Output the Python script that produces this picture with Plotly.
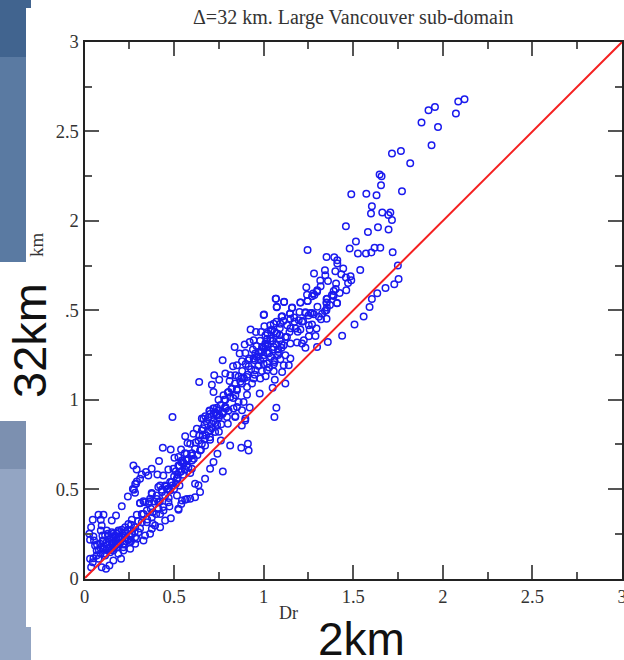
import plotly.graph_objects as go

TITLE = "Δ=32 km. Large Vancouver sub-domain"
x_tick_vals = [0, 0.5, 1, 1.5, 2, 2.5, 3]
x_tick_text = ["0", "0.5", "1", "1.5", "2", "2.5", "3"]
y_tick_vals = [0, 0.5, 1, 1.5, 2, 2.5, 3]
y_tick_text = ["0", "0.5", "1", ".5", "2", "2.5", "3"]
line_x = [0, 3]
line_y = [0, 3]

upper_x = [2.121,2.086,2.073,1.956,1.920,1.881,1.973,1.937,1.766,1.716,1.818,1.647,1.658,1.655,1.772,1.489,1.573,1.630,1.604,1.599,1.662,1.707,1.696,1.716,1.459,1.638,1.697,1.582,1.515,1.480,1.619,1.651,1.526,1.571,1.601,1.720,1.245,1.351,1.394,1.411,1.411,1.749,1.444,1.539,1.342,1.400,1.281,1.344,1.433,1.459,1.485,1.753,1.316,1.359,1.489,1.404,1.729,1.471,1.318,1.238,1.680,1.402,1.299,1.461,1.634,1.424,1.391,1.283,1.270,1.381,1.604,1.067,1.114,1.351,1.205,1.244,1.351,1.409,1.591,1.073,1.158,1.353,1.342,1.233,1.270,1.147,1.000,1.100,1.558,1.507,1.438]
upper_y = [2.680,2.667,2.600,2.637,2.619,2.550,2.524,2.423,2.391,2.376,2.322,2.259,2.250,2.199,2.166,2.149,2.151,2.143,2.082,2.041,2.046,2.046,2.033,2.005,1.970,1.964,1.951,1.938,1.884,1.845,1.849,1.849,1.817,1.817,1.823,1.824,1.837,1.798,1.796,1.780,1.761,1.750,1.733,1.725,1.724,1.718,1.705,1.696,1.701,1.683,1.690,1.675,1.666,1.664,1.668,1.649,1.645,1.653,1.634,1.628,1.625,1.619,1.612,1.612,1.595,1.597,1.608,1.585,1.578,1.585,1.563,1.565,1.546,1.563,1.544,1.552,1.543,1.539,1.518,1.517,1.513,1.515,1.496,1.489,1.485,1.481,1.474,1.464,1.465,1.420,1.358]

mid_x = [0.640,0.771,0.838,0.724,0.752,0.711,0.720,0.786,0.814,0.810,0.842,0.829,0.851,0.879,0.866,0.898,0.894,0.922,0.944,0.927,0.957,0.985,1.004,1.037,1.056,1.093,1.071,1.103,1.002,1.069,1.073,1.114,1.159,1.147,1.205,1.246,1.242,1.276,1.298,1.354,1.351,1.388,1.410,1.233,1.261,1.280,1.308,1.326,1.351,1.149,1.172,1.196,1.214,1.252,1.295,1.257,1.205,1.179,1.131,1.289,1.252,1.224,1.186,1.214,1.233,1.298,1.358,1.144,1.121,1.149,1.112,1.090,1.075,1.047,1.022,1.037,1.009,0.991,1.022,1.056,1.084,1.121,1.149,1.093,1.140,1.112,1.056,1.019,0.981,0.953,0.972,1.000,0.972,0.944,0.916,0.916,0.953,1.019,1.056,1.103,1.011,0.981,0.944,0.907,0.935,0.907,0.879,0.879,1.062,1.121,1.050,0.978,0.907,0.851,0.823,0.842,0.804,0.814,0.776,0.748,0.786,0.860,0.888,0.851,0.922,0.879,0.832,0.786,0.776,0.748,0.720,0.698,0.739,0.795,0.842,0.674,0.655,1.071,1.060,0.898]
mid_y = [1.099,1.220,1.295,1.136,1.112,1.084,1.043,1.146,1.136,1.105,1.136,1.187,1.192,1.215,1.258,1.261,1.308,1.323,1.332,1.392,1.379,1.379,1.411,1.416,1.425,1.425,1.435,1.467,1.476,1.565,1.519,1.547,1.515,1.481,1.543,1.552,1.586,1.593,1.603,1.565,1.541,1.584,1.541,1.485,1.485,1.478,1.463,1.481,1.453,1.453,1.435,1.444,1.435,1.416,1.398,1.392,1.392,1.398,1.416,1.356,1.355,1.332,1.319,1.314,1.291,1.295,1.323,1.379,1.351,1.314,1.304,1.332,1.370,1.388,1.370,1.342,1.314,1.295,1.299,1.295,1.267,1.248,1.230,1.226,1.192,1.192,1.198,1.202,1.220,1.258,1.267,1.248,1.192,1.230,1.220,1.187,1.164,1.164,1.159,1.155,1.131,1.118,1.118,1.127,1.090,1.071,1.118,1.090,1.112,1.090,1.067,1.034,1.028,1.052,1.062,1.025,1.043,1.015,1.025,1.000,1.000,0.987,0.987,0.959,0.956,0.941,0.950,0.959,0.931,0.941,0.950,0.937,0.913,0.903,0.907,0.907,0.894,0.955,0.903,0.894]

lower_x = [0.491,0.437,0.481,0.416,0.539,0.502,0.562,0.575,0.627,0.608,0.655,0.698,0.739,0.720,0.754,0.785,0.804,0.841,0.897,0.878,0.800,0.763,0.711,0.664,0.636,0.617,0.701,0.673,0.645,0.599,0.571,0.552,0.524,0.496,0.534,0.515,0.468,0.487,0.440,0.455,0.431,0.412,0.478,0.450,0.403,0.375,0.366,0.338,0.310,0.412,0.474,0.524,0.562,0.590,0.617,0.645,0.617,0.636,0.673,0.701,0.720,0.742,0.761,0.772,0.813,0.875,0.912,0.916,0.273,0.291,0.343,0.319,0.310,0.375,0.356,0.407,0.288,0.276,0.282,0.543,0.524,0.590,0.655,0.679,0.729,0.701,0.599]
lower_y = [0.903,0.731,0.722,0.657,0.722,0.675,0.796,0.757,0.837,0.810,0.828,0.940,0.955,0.921,0.912,0.959,0.940,0.903,0.884,0.856,0.865,0.862,0.865,0.893,0.772,0.726,0.776,0.744,0.716,0.688,0.698,0.642,0.632,0.614,0.595,0.558,0.610,0.539,0.576,0.515,0.496,0.511,0.492,0.464,0.464,0.478,0.446,0.427,0.422,0.427,0.403,0.390,0.440,0.446,0.455,0.483,0.530,0.521,0.558,0.614,0.651,0.698,0.772,0.599,0.744,0.731,0.754,0.716,0.632,0.610,0.595,0.582,0.558,0.614,0.576,0.582,0.530,0.496,0.480,0.660,0.679,0.754,0.754,0.800,0.819,0.828,0.614]

base_x = [0.037,0.046,0.031,0.050,0.096,0.120,0.139,0.161,0.204,0.189,0.217,0.255,0.283,0.329,0.366,0.422,0.450,0.482,0.394,0.376,0.301,0.283,0.245,0.264,0.217,0.180,0.143,0.115,0.078,0.106,0.068,0.087,0.124,0.059,0.068,0.053,0.031,0.027,0.050,0.037,0.046,0.078,0.106,0.091,0.096,0.091,0.124,0.115,0.152,0.176,0.208,0.242,0.270,0.283,0.292,0.152,0.180,0.208,0.227,0.245,0.264,0.292,0.320,0.310,0.329,0.357,0.376,0.404,0.432,0.422,0.450,0.469,0.478,0.516,0.544,0.540,0.572,0.525,0.469,0.441,0.422,0.376,0.381,0.338,0.348,0.413,0.370,0.348,0.320,0.283,0.255,0.227,0.199,0.171,0.152,0.133,0.161,0.255,0.292,0.217,0.189,0.106,0.133,0.161,0.189]
base_y = [0.063,0.091,0.110,0.113,0.063,0.054,0.072,0.100,0.110,0.138,0.156,0.166,0.194,0.212,0.250,0.287,0.324,0.337,0.296,0.278,0.259,0.231,0.216,0.250,0.194,0.175,0.147,0.128,0.110,0.166,0.156,0.194,0.203,0.184,0.128,0.212,0.216,0.250,0.235,0.287,0.328,0.356,0.356,0.328,0.296,0.268,0.268,0.240,0.324,0.352,0.404,0.458,0.501,0.529,0.542,0.259,0.250,0.272,0.287,0.305,0.328,0.356,0.361,0.421,0.432,0.421,0.473,0.445,0.483,0.520,0.520,0.501,0.539,0.464,0.436,0.417,0.445,0.384,0.427,0.380,0.361,0.343,0.306,0.240,0.315,0.390,0.390,0.380,0.315,0.287,0.268,0.231,0.222,0.212,0.194,0.166,0.156,0.203,0.222,0.175,0.194,0.212,0.240,0.231,0.268]

# additional points read from the denser parts of the cloud
dense_x = [0.09,0.10,0.11,0.13,0.14,0.15,0.16,0.17,0.18,0.19,0.20,0.21,0.22,0.23,0.24,0.25,0.26,0.28,0.30,0.31,0.33,0.35,0.36,0.38,0.39,0.40,0.42,0.44,0.46,0.47,0.49,0.50,0.51,0.52,0.53,0.54,0.55,0.56,0.57,0.58,0.60,0.61,0.62,0.63,0.64,0.65,0.66,0.67,0.68,0.69,0.70,0.71,0.72,0.73,0.74,0.75,0.76,0.77,0.78,0.79,0.80,0.82,0.83,0.84,0.85,0.86,0.87,0.88,0.89,0.90,0.91,0.92,0.93,0.94,0.95,0.96,0.97,0.98,0.99,1.00,1.01,1.02,1.03,1.04,1.05,1.06,1.07,1.08,1.09,1.10,1.11,1.13,1.15,1.17,1.19,1.20,1.22,1.25,1.27,1.30,1.32,1.35,1.37,1.39]
dense_y = [0.17,0.21,0.14,0.19,0.22,0.16,0.20,0.24,0.19,0.23,0.20,0.25,0.19,0.26,0.22,0.24,0.30,0.26,0.32,0.28,0.36,0.33,0.43,0.37,0.43,0.36,0.43,0.40,0.50,0.45,0.52,0.57,0.53,0.58,0.63,0.60,0.65,0.61,0.66,0.62,0.70,0.67,0.76,0.69,0.80,0.72,0.84,0.78,0.88,0.82,0.92,0.84,0.88,0.93,0.86,0.90,0.97,0.92,1.00,0.95,1.04,1.06,1.01,1.09,1.06,1.13,1.10,1.16,1.12,1.20,1.14,1.23,1.17,1.28,1.22,1.30,1.24,1.33,1.27,1.29,1.36,1.31,1.26,1.39,1.33,1.22,1.37,1.28,1.40,1.31,1.44,1.35,1.40,1.46,1.38,1.49,1.44,1.47,1.42,1.52,1.45,1.50,1.53,1.58]

clump_x = [0.07,0.08,0.09,0.10,0.11,0.12,0.13,0.14,0.15,0.16,0.17,0.18,0.19,0.21,0.23,0.24,0.26,0.50,0.51,0.52,0.53,0.54,0.55,0.56,0.57,0.58,0.59,0.60,0.66,0.67,0.69,0.70,0.72,0.73,0.74,0.75,0.95,0.96,0.97,0.98,0.99,1.00,1.01,1.02,1.03,1.04,1.05,1.06,1.07,1.08,1.09,1.10,1.00,1.02,1.04,1.06]
clump_y = [0.19,0.16,0.14,0.24,0.18,0.16,0.25,0.17,0.21,0.25,0.18,0.22,0.26,0.23,0.21,0.27,0.21,0.50,0.60,0.56,0.52,0.65,0.58,0.70,0.63,0.67,0.59,0.66,0.80,0.86,0.90,0.79,0.95,0.87,0.92,0.82,1.14,1.24,1.19,1.27,1.16,1.23,1.30,1.26,1.18,1.33,1.28,1.21,1.31,1.25,1.36,1.29,1.20,1.34,1.24,1.38]

W, H = 624, 660
L, R, T, B = 84.5, 622, 42, 578.5


def px(v):
    return v / W


def py(v):
    return 1 - v / H


def band(x0, y0, x1, y1, color):
    return dict(type="rect", xref="paper", yref="paper", layer="below",
                x0=px(x0), x1=px(x1), y0=py(y1), y1=py(y0),
                fillcolor=color, line=dict(width=0))


shapes = [
    band(0, 0, 31, 8, "#41648f"),
    band(0, 8, 26, 57, "#41648f"),
    band(0, 57, 26, 262, "#5a7aa2"),
    band(0, 421, 26, 469, "#7c90b0"),
    band(0, 469, 26, 627, "#93a5c3"),
    band(0, 627, 31, 660, "#93a5c3"),
]

serif = "Liberation Serif"
sans = "Liberation Sans"
annotations = [
    dict(text=TITLE, x=px(353), y=py(17), font=dict(family=serif, size=20, color="#333333")),
    dict(text="km", x=px(36), y=py(245), textangle=-90, font=dict(family=serif, size=19, color="#333333")),
    dict(text="Dr", x=px(288.5), y=py(613), font=dict(family=serif, size=18, color="#333333")),
    dict(text="32km", x=px(29), y=py(341), textangle=-90, font=dict(family=sans, size=47, color="#111111")),
    dict(text="2km", x=px(361), y=py(639), font=dict(family=sans, size=46, color="#111111")),
]
for a in annotations:
    a.update(xref="paper", yref="paper", showarrow=False, xanchor="center", yanchor="middle")

fig = go.Figure()
fig.add_trace(go.Scatter(
    x=upper_x + mid_x + lower_x + base_x + dense_x + clump_x,
    y=upper_y + mid_y + lower_y + base_y + dense_y + clump_y,
    mode="markers",
    marker=dict(symbol="circle-open", size=6.5, color="#1a1aee", line=dict(width=1.5, color="#1a1aee")),
    showlegend=False, cliponaxis=False, hoverinfo="skip",
))
fig.add_trace(go.Scatter(
    x=line_x, y=line_y, mode="lines",
    line=dict(color="#f52020", width=2), showlegend=False, hoverinfo="skip",
))

axis_common = dict(
    range=[0, 3], showgrid=False, zeroline=False, automargin=False, mirror="ticks",
    showline=True, linecolor="#222222", linewidth=2,
    ticks="inside", ticklen=14, tickwidth=1.5, tickcolor="#555555",
    ticklabeloverflow="allow",
    tickfont=dict(family=serif, size=18.5, color="#333333"),
    minor=dict(ticks="inside", ticklen=7, tickwidth=1.5, tickcolor="#555555", dtick=0.25, showgrid=False),
)
fig.update_layout(
    width=W, height=H, autosize=False,
    margin=dict(l=0, r=0, t=0, b=0),
    paper_bgcolor="white", plot_bgcolor="white",
    xaxis=dict(domain=[px(L), px(R)], tickmode="array", tickvals=x_tick_vals, ticktext=x_tick_text, **axis_common),
    yaxis=dict(domain=[py(B), py(T)], tickmode="array", tickvals=y_tick_vals, ticktext=y_tick_text, **axis_common),
    shapes=shapes, annotations=annotations,
)
fig.write_html("out.html", config={"displayModeBar": False},
               post_script="document.body.style.margin='0';document.documentElement.style.overflow='hidden';")
